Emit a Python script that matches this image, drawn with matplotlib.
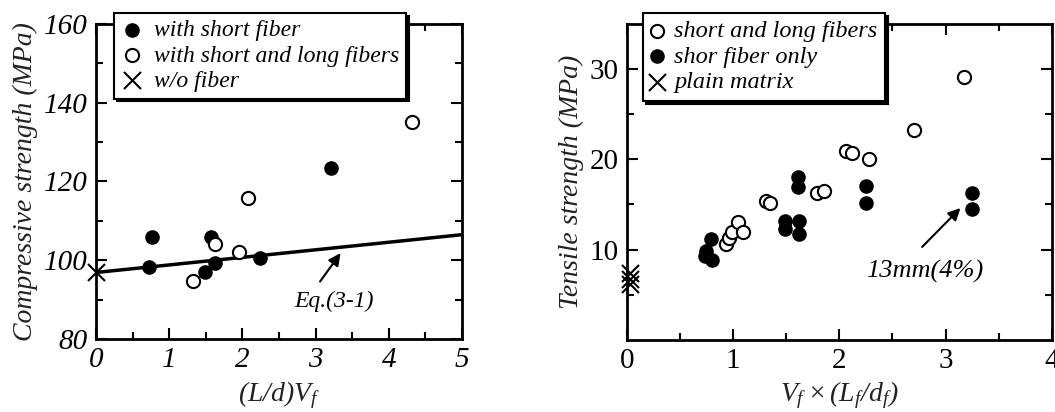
import matplotlib
matplotlib.use("Agg")
import matplotlib.pyplot as plt
from matplotlib.ticker import MultipleLocator

plt.rcParams['font.family'] = ['Liberation Serif', 'DejaVu Serif']
plt.rcParams['mathtext.fontset'] = 'custom'
plt.rcParams['mathtext.rm'] = 'Liberation Serif:italic'
plt.rcParams['mathtext.it'] = 'Liberation Serif:italic'

# left panel: compressive strength
short_x = [0.72, 0.77, 1.49, 1.57, 1.63, 2.24, 3.21]
short_y = [98.4, 105.9, 96.9, 106.0, 99.3, 100.7, 123.3]
long_x = [1.32, 1.63, 1.95, 2.08, 4.32]
long_y = [94.8, 104.1, 102.2, 115.9, 135.0]
plain_x = [0.0]
plain_y = [97.0]
eq_x = [0, 5]
eq_y = [96.9, 106.5]

# right panel: tensile strength
sl_x = [0.93, 0.96, 0.99, 1.05, 1.09, 1.31, 1.35, 1.79, 1.86, 2.06, 2.12, 2.28, 2.70, 3.17]
sl_y = [10.6, 11.3, 12.0, 13.1, 12.0, 15.4, 15.2, 16.3, 16.5, 20.9, 20.7, 20.0, 23.2, 29.1]
so_x = [0.75, 0.74, 0.79, 0.80, 1.49, 1.49, 1.61, 1.61, 1.62, 1.62, 2.25, 2.25, 3.25, 3.25]
so_y = [9.8, 9.3, 11.2, 8.9, 13.2, 12.3, 18.0, 16.9, 13.2, 11.7, 17.0, 15.2, 16.3, 14.5]
pm_x = [0.03, 0.03, 0.03]
pm_y = [7.4, 6.8, 6.2]

fig = plt.figure(figsize=(10.55, 4.12), dpi=100)
ax1 = fig.add_axes([0.091, 0.177, 0.347, 0.765])
ax2 = fig.add_axes([0.594, 0.175, 0.403, 0.767])

for ax in (ax1, ax2):
    for s in ax.spines.values():
        s.set_linewidth(2)
    ax.tick_params(which='both', direction='in', top=True, right=True, width=1.5)
    ax.tick_params(which='major', length=8, labelsize=21, pad=6)
    ax.tick_params(which='minor', length=5)

arrow = dict(arrowstyle='-|>', color='black', lw=1.5, shrinkA=0, shrinkB=0, mutation_scale=18)
ms = 90

ax1.plot(eq_x, eq_y, color='black', lw=2.5, zorder=2)
ax1.scatter(short_x, short_y, s=ms, c='black', zorder=3, label='with short fiber')
ax1.scatter(long_x, long_y, s=ms, facecolors='white', edgecolors='black', linewidths=1.5,
            zorder=3, label='with short and long fibers')
ax1.scatter(plain_x, plain_y, s=150, marker='x', c='black', linewidths=1.5, zorder=4,
            clip_on=False, label='w/o fiber')
ax1.set_xlim(0, 5)
ax1.set_ylim(80, 160)
ax1.xaxis.set_major_locator(MultipleLocator(1))
ax1.xaxis.set_minor_locator(MultipleLocator(0.5))
ax1.yaxis.set_major_locator(MultipleLocator(20))
ax1.yaxis.set_minor_locator(MultipleLocator(10))
for lab in ax1.get_xticklabels() + ax1.get_yticklabels():
    lab.set_fontstyle('italic')
ax1.set_ylabel('Compressive strength (MPa)', fontsize=20, style='italic', color='#222222')
ax1.set_xlabel(r'$(L/d)V_f$', fontsize=20, color='#222222', labelpad=4)
ax1.annotate('', xy=(3.34, 101.8), xytext=(3.06, 94.6), arrowprops=arrow)
ax1.text(3.25, 89.6, 'Eq.(3-1)', fontsize=17, style='italic', ha='center', va='center')
leg1 = ax1.legend(loc='upper left', bbox_to_anchor=(0.049, 1.035), borderaxespad=0,
                  fancybox=False, shadow={'facecolor': 'black', 'edgecolor': 'black', 'alpha': 1},
                  prop={'family': 'Liberation Serif', 'style': 'italic', 'size': 17},
                  handlelength=0.9, handletextpad=0.5, labelspacing=0.15, borderpad=0.3,
                  framealpha=1)
leg1.get_frame().set_edgecolor('black')
leg1.get_frame().set_linewidth(1.5)
leg1.set_zorder(10)

ax2.scatter(sl_x, sl_y, s=ms, facecolors='white', edgecolors='black', linewidths=1.5,
            zorder=3, label='short and long fibers')
ax2.scatter(so_x, so_y, s=ms, c='black', zorder=3, label='shor fiber only')
ax2.scatter(pm_x, pm_y, s=150, marker='x', c='black', linewidths=1.5, zorder=4,
            clip_on=False, label='plain matrix')
ax2.set_xlim(0, 4)
ax2.set_ylim(0, 35)
ax2.xaxis.set_major_locator(MultipleLocator(1))
ax2.xaxis.set_minor_locator(MultipleLocator(0.5))
ax2.set_yticks([10, 20, 30])
ax2.set_yticks([5, 15, 25], minor=True)
ax2.set_ylabel('Tensile strength (MPa)', fontsize=20, style='italic', color='#222222')
ax2.set_xlabel(r'$V_f\times(L_f/d_f)$', fontsize=20, color='#222222', labelpad=4)
ax2.annotate('', xy=(3.14, 14.6), xytext=(2.78, 10.3), arrowprops=arrow)
ax2.text(2.80, 7.6, '13mm(4%)', fontsize=19, style='italic', ha='center', va='center')
leg2 = ax2.legend(loc='upper left', bbox_to_anchor=(0.038, 1.035), borderaxespad=0,
                  fancybox=False, shadow={'facecolor': 'black', 'edgecolor': 'black', 'alpha': 1},
                  prop={'family': 'Liberation Serif', 'style': 'italic', 'size': 17.5},
                  handlelength=0.6, handletextpad=0.4, labelspacing=0.15, borderpad=0.3,
                  framealpha=1)
leg2.get_frame().set_edgecolor('black')
leg2.get_frame().set_linewidth(1.5)
leg2.set_zorder(10)

fig.savefig('out.png', dpi=100)
